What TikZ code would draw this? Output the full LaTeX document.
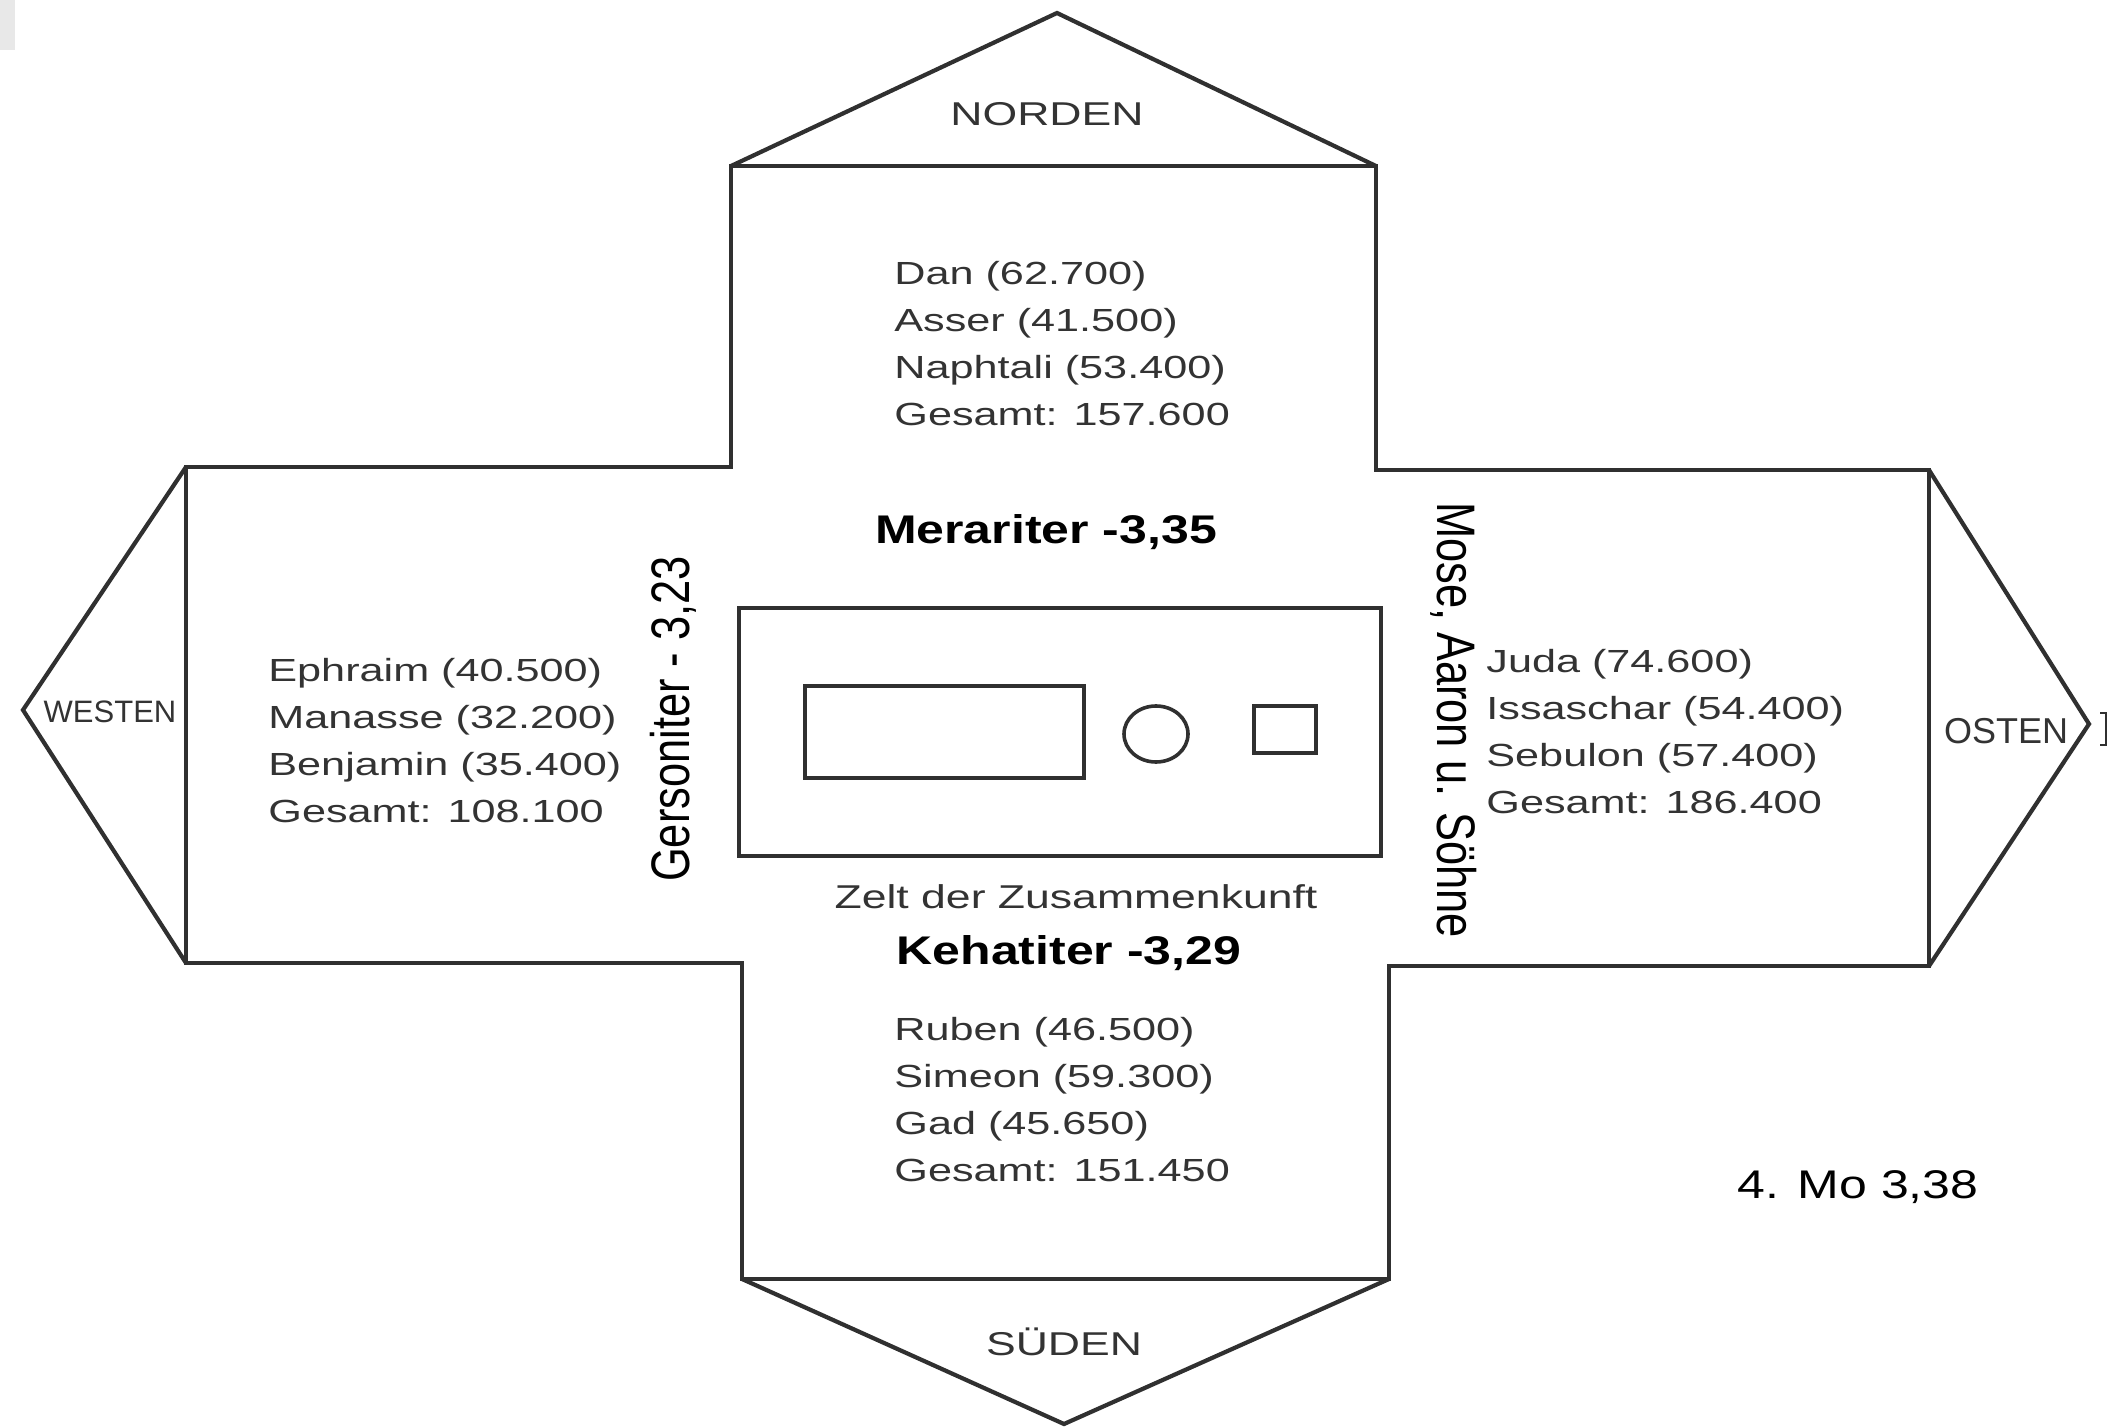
\documentclass[tikz,border=0pt]{standalone}
\usepackage{fontspec}
\setmainfont{Liberation Sans}
\newfontfamily\widefont{Liberation Sans}[FakeStretch=1.35]
\newfontfamily\bwidefont{Liberation Sans}[FakeStretch=1.25]
\usepackage{graphicx}
\usepackage{xcolor}
\usepackage{tikz}
\usetikzlibrary{positioning}
\definecolor{inkline}{HTML}{303030}
\definecolor{inktext}{HTML}{333333}
\tikzset{
  outline/.style={draw=inkline, line width=2.1pt, line join=miter},
  inner/.style={draw=inkline, line width=1.8pt},
  tribes/.style={align=left, anchor=west, inner sep=0pt, text=inktext,
                 font=\widefont\fontsize{16}{23.5}\selectfont},
  dirlbl/.style={inner sep=0pt, text=inktext, font=\widefont\fontsize{16.5}{20}\selectfont},
  levite/.style={inner sep=0pt, text=black, font=\bwidefont\bfseries\fontsize{20}{24}\selectfont},
  sidelbl/.style={inner sep=0pt, text=black, font=\fontsize{21.7}{26}\selectfont},
}

\begin{document}
\begin{tikzpicture}[x=0.5pt, y=-0.5pt]
    \useasboundingbox (0,0) rectangle (2111,1428);
    \fill[gray!18] (0,0) rectangle (15,50);

    % camp cross and the four points
    \draw[outline] (731,166) -- (1376,166) -- (1376,470) -- (1929,470) -- (1929,966)
        -- (1389,966) -- (1389,1279) -- (742,1279) -- (742,963) -- (186,963)
        -- (186,467) -- (731,467) -- cycle;
    \draw[outline] (731,166) -- (1057,13) -- (1376,166);
    \draw[outline] (1929,470) -- (2089,724) -- (1929,966);
    \draw[outline] (742,1279) -- (1064,1424) -- (1389,1279);
    \draw[outline] (186,467) -- (23,710) -- (186,963);
    \draw[inkline, line width=1pt] (2100,713) -- (2106,713) -- (2106,745) -- (2100,745);

    % tent of meeting
    \draw[inner] (739,608) rectangle (1381,856);
    \draw[inner] (805,686) rectangle (1084,778);
    \draw[inner] (1156,734) ellipse [x radius=32, y radius=28];
    \draw[inner] (1254,706) rectangle (1316,753);

    \node[dirlbl] (north) at (1047,114) {NORDEN};
    \node[dirlbl] (south) at (1064,1342) {SÜDEN};
    \node[inner sep=0pt, text=inktext, font=\fontsize{15.5}{18}\selectfont] (west) at (110,712) {WESTEN};
    \node[inner sep=0pt, text=inktext, font=\fontsize{18}{20}\selectfont] (east) at (2006,731) {OSTEN};

    \node[tribes] (dan) at (894,344) {Dan (62.700)\\Asser (41.500)\\Naphtali (53.400)\\Gesamt: 157.600};
    \node[tribes] (ephraim) at (268,741) {Ephraim (40.500)\\Manasse (32.200)\\Benjamin (35.400)\\Gesamt: 108.100};
    \node[tribes] (juda) at (1486,732) {Juda (74.600)\\Issaschar (54.400)\\Sebulon (57.400)\\Gesamt: 186.400};
    \node[tribes] (ruben) at (894,1100) {Ruben (46.500)\\Simeon (59.300)\\Gad (45.650)\\Gesamt: 151.450};

    \node[levite] (merari) at (1046,532) {Merariter -3,35};
    \node[levite] (kehat) at (1069,953) {Kehatiter -3,29};
    \node[sidelbl, rotate=90] (gerson) at (673,719) {\scalebox{1}[1.25]{Gersoniter - 3,23}};
    \node[sidelbl, rotate=-90] (mose) at (1454,720) {\scalebox{1}[1.25]{Mose, Aaron u. Söhne}};
    \node[dirlbl] (tent) at (1076,897) {Zelt der Zusammenkunft};
    \node[levite, font=\bwidefont\fontsize{20}{24}\selectfont] (ref) at (1858,1187) {4. Mo 3,38};
\end{tikzpicture}
\end{document}
